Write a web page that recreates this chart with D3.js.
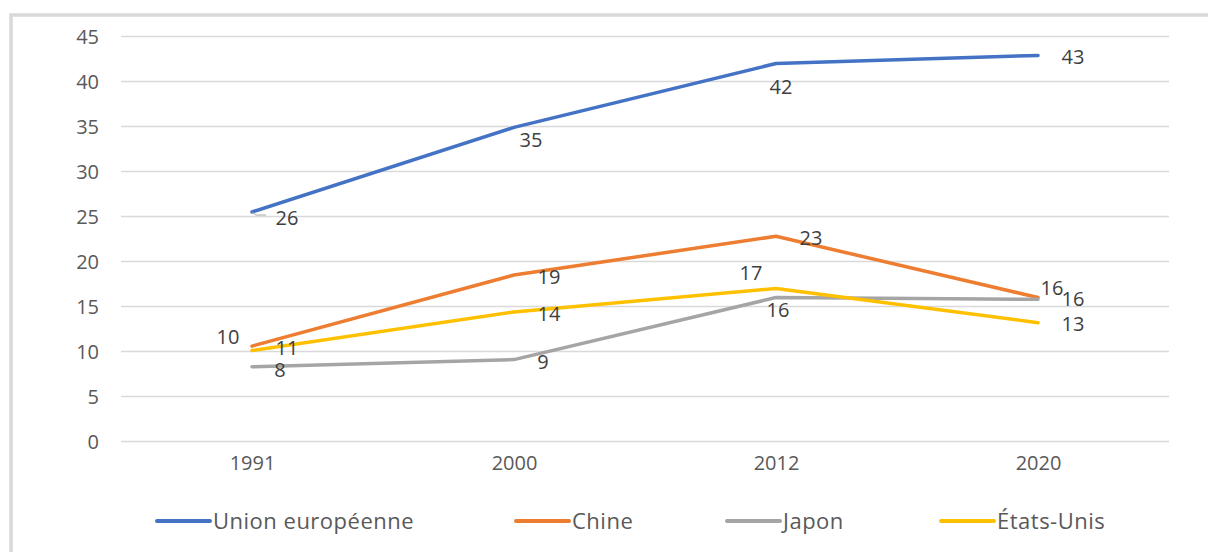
<!DOCTYPE html>
<html>
<head>
<meta charset="utf-8">
<script src="https://cdn.jsdelivr.net/npm/d3@7"></script>
<style>
  html, body { margin: 0; padding: 0; background: #fff; }
  svg { display: block; font-family: "Open Sans", sans-serif; }
</style>
</head>
<body>
<svg id="chart" width="1208" height="552"></svg>
<script>
// ---- data ----
const categories = ["1991", "2000", "2012", "2020"];
const seriesNames = ["Union européenne", "Chine", "Japon", "États-Unis"];
const euValues    = [25.5, 34.9, 42.0, 42.9];
const chinaValues = [10.6, 18.5, 22.8, 16.0];
const japanValues = [8.3, 9.1, 16.0, 15.8];
const usValues    = [10.1, 14.4, 17.0, 13.2];
const euLabels    = ["26", "35", "42", "43"];
const chinaLabels = ["11", "19", "23", "16"];
const japanLabels = ["8", "9", "16", "16"];
const usLabels    = ["10", "14", "17", "13"];
const yTicks = [0, 5, 10, 15, 20, 25, 30, 35, 40, 45];

// ---- styling / placement (not data) ----
const colors = ["#4472C4", "#ED7D31", "#A5A5A5", "#FFC000"];
// label center offsets relative to the point
const labelOffsets = [
  [[35, 6], [17, 13], [5, 23], [35, 2]],
  [[35, 2], [35, 2], [35, 2], [14, -10]],
  [[28, 3], [29, 2], [2, 12], [35, 0]],
  [[-24, -14], [35, 2], [-25, -16], [35, 1]]
];

const series = [
  { name: seriesNames[0], values: euValues, labels: euLabels },
  { name: seriesNames[1], values: chinaValues, labels: chinaLabels },
  { name: seriesNames[2], values: japanValues, labels: japanLabels },
  { name: seriesNames[3], values: usValues, labels: usLabels }
];

const svg = d3.select("#chart");

// chart frame
svg.append("rect")
  .attr("x", 11).attr("y", 15)
  .attr("width", 1300).attr("height", 700)
  .attr("fill", "none")
  .attr("stroke", "#d9d9d9")
  .attr("stroke-width", 3.5);

const plot = { left: 121, right: 1169, top: 36.5, bottom: 441.5 };

const x = d3.scalePoint().domain(categories).range([plot.left, plot.right]).padding(0.5);
const y = d3.scaleLinear().domain([0, 45]).range([plot.bottom, plot.top]);

// gridlines
svg.append("g").selectAll("line").data(yTicks).join("line")
  .attr("x1", plot.left).attr("x2", plot.right)
  .attr("y1", d => y(d)).attr("y2", d => y(d))
  .attr("stroke", "#d9d9d9").attr("stroke-width", 1.5);

// y axis
const yAxis = d3.axisLeft(y).tickValues(yTicks).tickSize(0).tickPadding(0);
const gy = svg.append("g").attr("transform", `translate(${plot.left - 22},0)`).call(yAxis);
gy.select(".domain").remove();
gy.selectAll("text")
  .attr("fill", "#595959")
  .style("font-size", "20px")
  .style("font-family", "'Open Sans', sans-serif")
  .attr("dy", "0.35em");

// x axis
const xAxis = d3.axisBottom(x).tickSize(0).tickPadding(0);
const gx = svg.append("g").attr("transform", `translate(0,${plot.bottom + 14})`).call(xAxis);
gx.select(".domain").remove();
gx.selectAll("text")
  .attr("fill", "#595959")
  .style("font-size", "20px")
  .style("font-family", "'Open Sans', sans-serif")
  .attr("dy", "0.71em");

// lines
const line = d3.line().x((d, i) => x(categories[i])).y(d => y(d));
svg.append("g").selectAll("path").data(series).join("path")
  .attr("d", d => line(d.values))
  .attr("fill", "none")
  .attr("stroke", (d, i) => colors[i])
  .attr("stroke-width", 3.5)
  .attr("stroke-linejoin", "round")
  .attr("stroke-linecap", "round");

// leader line for the first EU label
svg.append("line")
  .attr("x1", x(categories[0])).attr("y1", y(euValues[0]))
  .attr("x2", x(categories[0]) + 4).attr("y2", y(euValues[0]) + 3)
  .attr("stroke", "#a6a6a6").attr("stroke-width", 1);
svg.append("line")
  .attr("x1", x(categories[0]) + 4).attr("y1", y(euValues[0]) + 3)
  .attr("x2", x(categories[0]) + 14).attr("y2", y(euValues[0]) + 3)
  .attr("stroke", "#a6a6a6").attr("stroke-width", 1);

// data labels
series.forEach((s, si) => {
  svg.append("g").selectAll("text").data(s.values).join("text")
    .attr("x", (d, i) => x(categories[i]) + labelOffsets[si][i][0])
    .attr("y", (d, i) => y(d) + labelOffsets[si][i][1])
    .attr("text-anchor", "middle")
    .attr("dy", "0.35em")
    .attr("fill", "#404040")
    .style("font-size", "20px")
    .text((d, i) => s.labels[i]);
});

// legend
const legendX = [157, 516, 727, 941];
const legendY = 521;
const lg = svg.append("g").selectAll("g").data(series).join("g")
  .attr("transform", (d, i) => `translate(${legendX[i]},${legendY})`);
lg.append("line")
  .attr("x1", 0).attr("x2", 53).attr("y1", 0).attr("y2", 0)
  .attr("stroke", (d, i) => colors[i])
  .attr("stroke-width", 4)
  .attr("stroke-linecap", "round");
lg.append("text")
  .attr("x", 56).attr("y", 0).attr("dy", "0.35em")
  .attr("fill", "#595959")
  .style("font-size", "22px")
  .style("letter-spacing", "0.5px")
  .text(d => d.name);
</script>
</body>
</html>
